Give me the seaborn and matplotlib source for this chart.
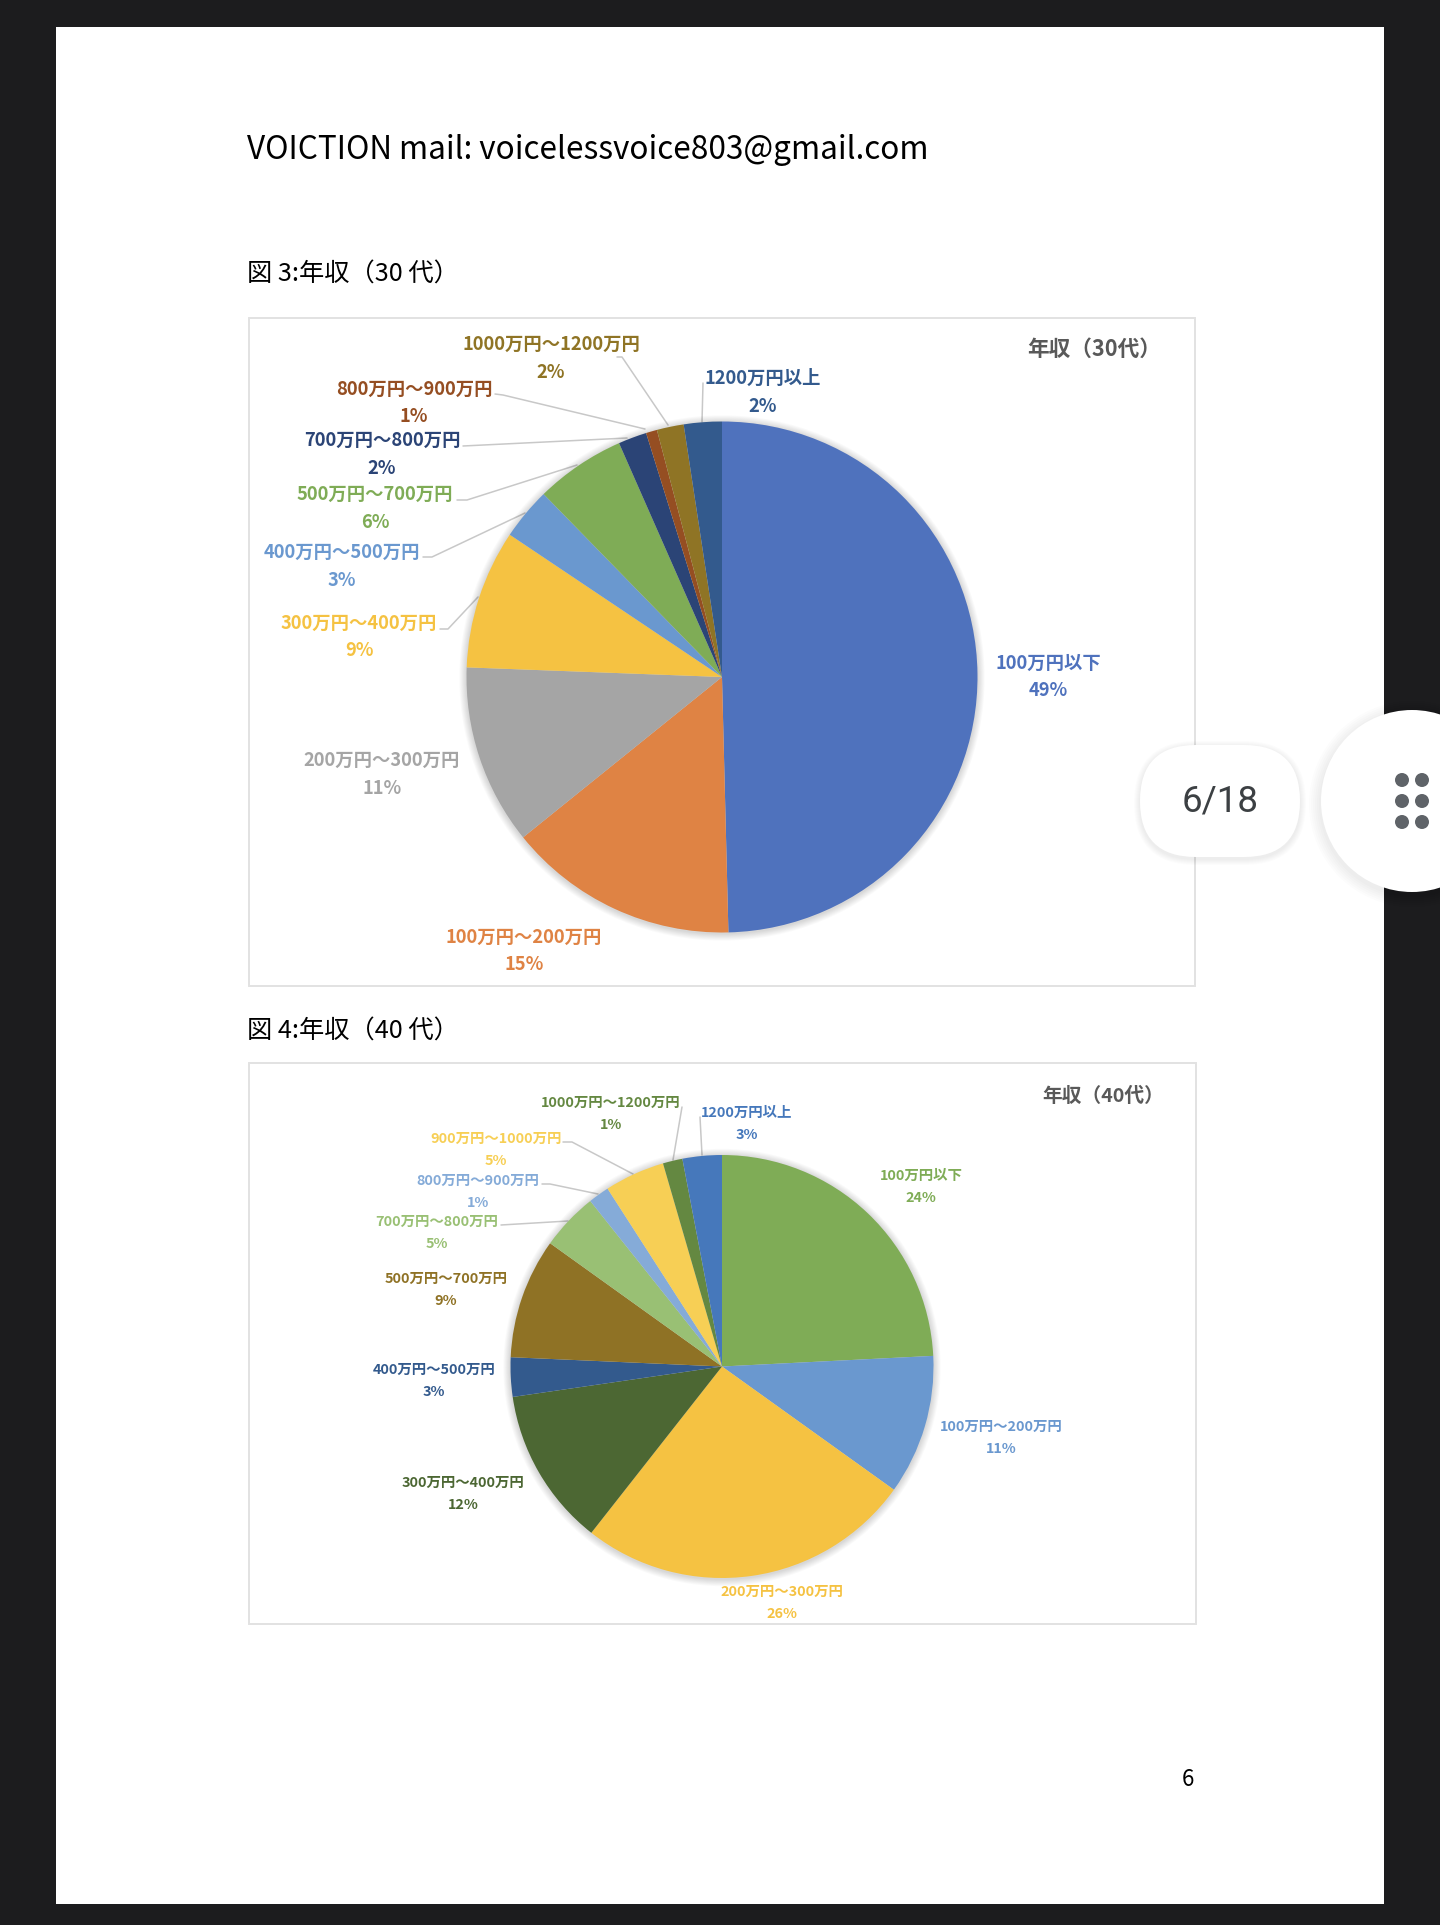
import matplotlib
matplotlib.use("Agg")
import matplotlib.pyplot as plt
from matplotlib.patches import Rectangle, Circle, FancyBboxPatch
import seaborn as sns

sns.set_theme(style="white")
plt.rcParams['font.family'] = ['Noto Sans CJK JP', 'DejaVu Sans']

# ---------- data ----------
cats_30 = ["100万円以下", "100万円～200万円", "200万円～300万円", "300万円～400万円", "400万円～500万円",
           "500万円～700万円", "700万円～800万円", "800万円～900万円", "1000万円～1200万円", "1200万円以上"]
vals_30 = [49.6, 14.6, 11.4, 8.8, 3.3, 5.7, 1.8, 0.7, 1.7, 2.4]
pct_30 = ["49%", "15%", "11%", "9%", "3%", "6%", "2%", "1%", "2%", "2%"]
colors_30 = ["#4f72bd", "#df8344", "#a5a5a5", "#f5c242", "#6a98cf",
             "#7fac56", "#2b4476", "#954e22", "#8f7425", "#335a8d"]

cats_40 = ["100万円以下", "100万円～200万円", "200万円～300万円", "300万円～400万円", "400万円～500万円",
           "500万円～700万円", "700万円～800万円", "800万円～900万円", "900万円～1000万円",
           "1000万円～1200万円", "1200万円以上"]
vals_40 = [24.2, 10.7, 25.7, 12.1, 3.0, 9.2, 4.4, 1.6, 4.6, 1.5, 3.0]
pct_40 = ["24%", "11%", "26%", "12%", "3%", "9%", "5%", "1%", "5%", "1%", "3%"]
colors_40 = ["#7fac56", "#6a98cf", "#f5c242", "#4c6733", "#335a8d", "#8f7225",
             "#99c074", "#85abd8", "#f7cf55", "#648841", "#4678bb"]

# ---------- layout (pixels) ----------
W, H = 1440, 1925
pos_30 = [(1048, 663), (524, 937), (382, 760), (359, 623), (342, 552),
          (375, 494), (382, 440), (414, 389), (551, 344), (763, 378)]
gap_30 = 28
pos_40 = [(921, 1176), (1001, 1427), (782, 1592), (463, 1483), (434, 1370),
          (446, 1279), (437, 1222), (478, 1181), (496, 1139), (611, 1103), (747, 1113)]
gap_40 = 22
lead_30 = [[(617, 357), (622, 357), (668, 425)],
           [(495, 394), (503, 395), (645, 429)],
           [(463, 446), (627, 438)],
           [(457, 500), (467, 500), (577, 465)],
           [(423, 557), (432, 557), (525, 513)],
           [(440, 629), (448, 629), (478, 597)],
           [(703, 383), (702, 422)]]
lead_40 = [[(682, 1107), (673, 1160)],
           [(700, 1117), (702, 1155)],
           [(563, 1142), (572, 1142), (633, 1174)],
           [(542, 1184), (550, 1184), (598, 1194)],
           [(501, 1225), (568, 1221)]]

fig = plt.figure(figsize=(W / 100, H / 100), dpi=100, facecolor="#1c1c1e")
bg = fig.add_axes([0, 0, 1, 1])
bg.set_xlim(0, W)
bg.set_ylim(H, 0)
bg.axis("off")

# page
bg.add_patch(Rectangle((56, 27), 1328, 1877, fc="white", ec="none", zorder=0))
# chart frames
for x, y, w, h in [(249, 318, 946, 668), (249, 1063, 947, 561)]:
    bg.add_patch(Rectangle((x, y), w, h, fc="white", ec="#e2e2e2", lw=1.4, zorder=1))

# header texts
bg.text(247, 150, "VOICTION mail: voicelessvoice803@gmail.com", fontsize=22.7, color="black",
        va="center", ha="left")
bg.text(247, 275, "図 3:年収（30 代）", fontsize=18.2, color="black", va="center", ha="left")
bg.text(247, 1032, "図 4:年収（40 代）", fontsize=18.2, color="black", va="center", ha="left")
bg.text(1188, 1780, "6", fontsize=16, color="black", va="center", ha="center")

bg.text(1094, 349, "年収（30代）", fontsize=15.6, fontweight="bold", color="#595959", va="center", ha="center")
bg.text(1103, 1096, "年収（40代）", fontsize=14.2, fontweight="bold", color="#595959", va="center", ha="center")


def pie(cx, cy, r, vals, cols):
    for k in range(8, 0, -1):
        bg.add_patch(Circle((cx, cy + 1), r + k * 0.9, fc="black", ec="none", alpha=0.02, zorder=3))
    ax = fig.add_axes([(cx - r) / W, 1 - (cy + r) / H, 2 * r / W, 2 * r / H])
    ax.patch.set_alpha(0)
    ax.pie(vals, colors=sns.color_palette(cols), startangle=90, counterclock=False,
           radius=1, wedgeprops={"linewidth": 0, "clip_on": False})
    ax.set_xlim(-1, 1)
    ax.set_ylim(-1, 1)


pie(722, 677, 255.5, vals_30, colors_30)
pie(722, 1366.5, 211.5, vals_40, colors_40)


def labels(cats, pcts, cols, pos, gap, fs):
    for c, p, col, (x, y) in zip(cats, pcts, cols, pos):
        bg.text(x, y, c, fontsize=fs, fontweight="bold", color=col, ha="center", va="center", zorder=5)
        bg.text(x, y + gap, p, fontsize=fs, fontweight="bold", color=col, ha="center", va="center", zorder=5)


labels(cats_30, pct_30, colors_30, pos_30, gap_30, 13.2)
labels(cats_40, pct_40, colors_40, pos_40, gap_40, 10.4)

for path in lead_30 + lead_40:
    bg.plot([p[0] for p in path], [p[1] for p in path], color="#c8c8c8", lw=1.1, zorder=2)

# viewer widgets
for k in range(6, 0, -1):
    bg.add_patch(Circle((1412, 804), 91 + k * 2, fc="black", ec="none", alpha=0.012, zorder=6))
    bg.add_patch(FancyBboxPatch((1140 - k, 747 - k), 160 + 2 * k, 112 + 2 * k,
                                boxstyle=f"round,pad=0,rounding_size={56 + k}",
                                fc="black", ec="none", alpha=0.012, zorder=6))
bg.add_patch(FancyBboxPatch((1140, 745), 160, 112, boxstyle="round,pad=0,rounding_size=56",
                            fc="white", ec="none", zorder=7))
bg.text(1220, 802, "6/18", fontsize=26.5, color="#3c4043", ha="center", va="center", zorder=8,
        family=['Roboto', 'DejaVu Sans'])
bg.add_patch(Circle((1412, 801), 91, fc="white", ec="none", zorder=7))
for dx in (1402, 1422):
    for dy in (780, 801, 822):
        bg.add_patch(Circle((dx, dy), 7, fc="#5f6368", ec="none", zorder=8))

fig.savefig("out.png", dpi=100, facecolor=fig.get_facecolor())
